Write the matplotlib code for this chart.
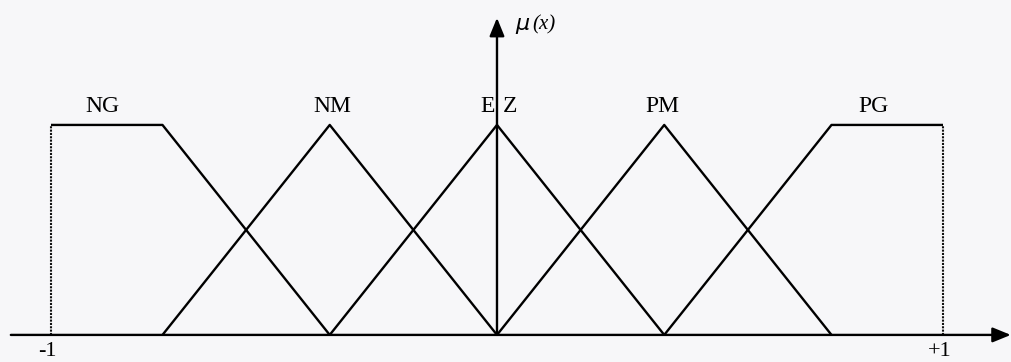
import matplotlib
matplotlib.use("Agg")
import matplotlib.pyplot as plt

# fuzzy sets over the normalised universe [-1, +1]
labels = ["NG", "NM", "EZ", "PM", "PG"]
set_x = [
    [-1.0, -0.75, -0.375],
    [-0.75, -0.375, 0.0],
    [-0.375, 0.0, 0.375],
    [0.0, 0.375, 0.75],
    [0.375, 0.75, 1.0],
]
set_mu = [
    [1.0, 1.0, 0.0],
    [0.0, 1.0, 0.0],
    [0.0, 1.0, 0.0],
    [0.0, 1.0, 0.0],
    [0.0, 1.0, 1.0],
]
label_x = [-0.885, -0.37, 0.0, 0.37, 0.845]
tick_vals = [-1.0, 1.0]
tick_text = ["-1", "+1"]

plt.rcParams["font.family"] = ["Liberation Serif", "DejaVu Serif"]

fig = plt.figure(figsize=(10.12, 3.62), dpi=100)
fig.patch.set_facecolor("#f7f7f9")
ax = fig.add_axes([0, 0, 1, 1])
ax.set_facecolor("#f7f7f9")
ax.set_xlim(-1.1143, 1.1547)
ax.set_ylim(-0.129, 1.595)
ax.axis("off")

lw = 1.7
for xs, ms in zip(set_x, set_mu):
    ax.plot(xs, ms, color="black", lw=lw, solid_capstyle="butt")

# dotted edges of the universe
for v in tick_vals:
    ax.plot([v, v], [0, 1], color="#111111", lw=1.5, ls=(0, (1.0, 0.6)))

# axes with arrow heads
ax.annotate("", xy=(1.152, 0), xytext=(-1.09, 0),
            arrowprops=dict(arrowstyle="-|>,head_length=1.1,head_width=0.45",
                            color="black", lw=lw, shrinkA=0, shrinkB=0))
ax.annotate("", xy=(0, 1.51), xytext=(0, 0),
            arrowprops=dict(arrowstyle="-|>,head_length=1.1,head_width=0.45",
                            color="black", lw=lw, shrinkA=0, shrinkB=0))
ax.text(0.04, 1.47, r"$\mu$", fontsize=16, style="italic", ha="left", va="center")
ax.text(0.08, 1.475, "(x)", fontsize=15, style="italic", ha="left", va="center")

for name, lx in zip(labels, label_x):
    if name == "EZ":
        ax.text(lx - 0.004, 1.09, "E", fontsize=17, ha="right", va="center")
        ax.text(lx + 0.013, 1.09, "Z", fontsize=17, ha="left", va="center")
    else:
        ax.text(lx, 1.09, name, fontsize=17, ha="center", va="center")

for v, t in zip(tick_vals, tick_text):
    ax.text(v - 0.008, -0.08, t, fontsize=16, ha="center", va="center")

fig.savefig("out.png", dpi=100, facecolor=fig.get_facecolor())
